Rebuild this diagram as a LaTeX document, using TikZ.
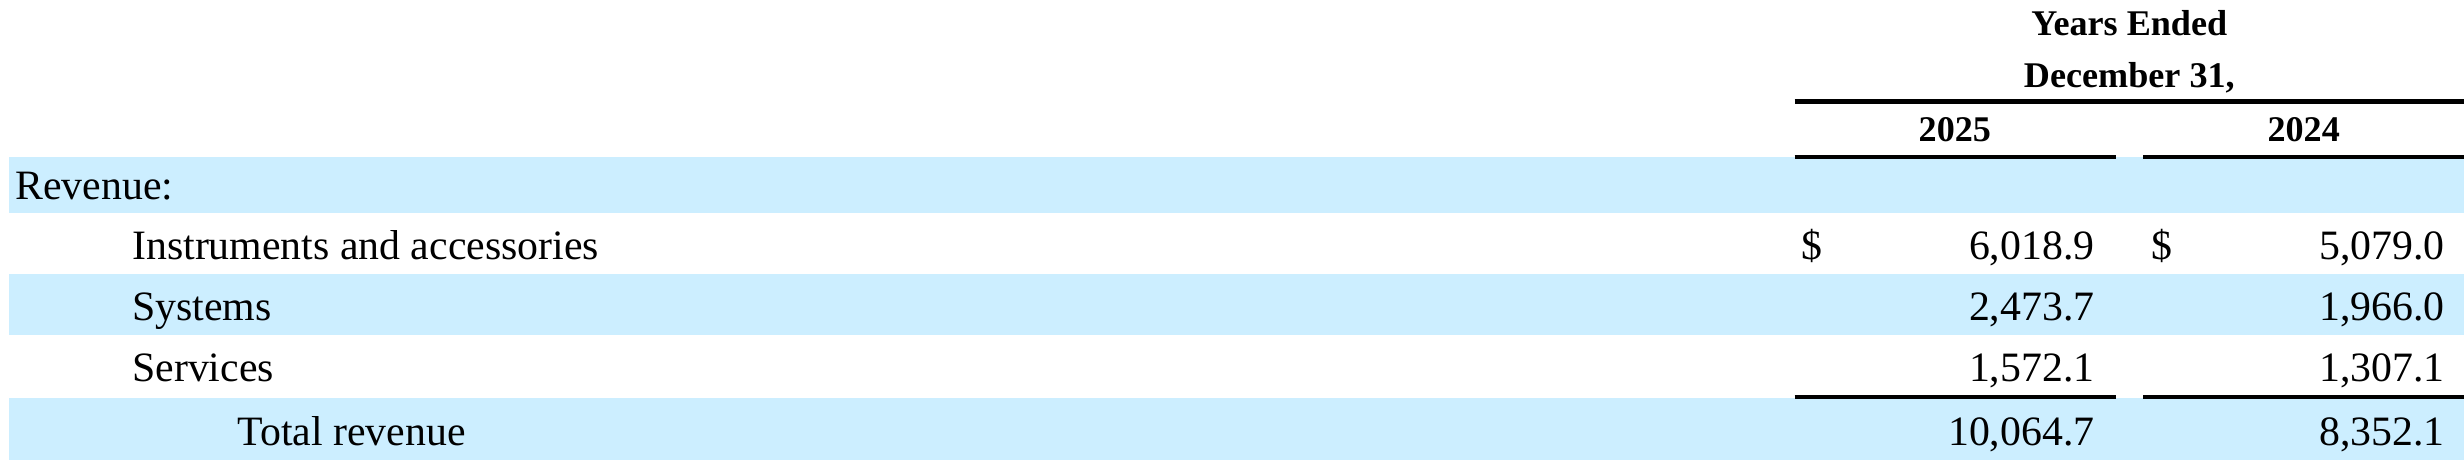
\documentclass[tikz,border=0pt]{standalone}
\usepackage{fontspec}
\setmainfont{Liberation Serif}
\definecolor{bandblue}{RGB}{204,238,255}
\begin{document}
\begin{tikzpicture}[x=1pt,y=-1pt,
  body/.style={inner sep=0pt, font=\fontsize{26.6}{30}\selectfont},
  head/.style={inner sep=0pt, font=\fontsize{23}{26}\selectfont\bfseries},
  rulethick/.style={line width=2.8pt, black},
  band/.style={fill=bandblue, draw=none}]
\useasboundingbox (0,0) rectangle (1568,293);
% bands
\path[band] (6,100) rectangle (1568,135.5);
\path[band] (6,174.4) rectangle (1568,213.4);
\path[band] (6,253.5) rectangle (1568,293);
% header
\node[head, anchor=base] (yrs) at (1355,22.3) {Years Ended};
\node[head, anchor=base] (dec) at (1355,55.6) {December 31,};
\node[head, anchor=base] (y25) at (1244,90.2) {2025};
\node[head, anchor=base] (y24) at (1466,90.2) {2024};
\coordinate (tl) at (1142,64.7);
\coordinate (tr) at (1568,64.7);
\draw[rulethick] (tl) -- (tr);
\coordinate (a1) at (1142,99.8);
\coordinate (a2) at (1346.5,99.8);
\coordinate (b1) at (1364,99.8);
\coordinate (b2) at (1568,99.8);
\draw[rulethick] (a1) -- (a2);
\draw[rulethick] (b1) -- (b2);
% labels
\node[body, anchor=base west] (rev) at (9.7,126.8) {Revenue:};
\node[body, anchor=base west] (ins) at (84,165) {Instruments and accessories};
\node[body, anchor=base west] (sys) at (84,203.8) {Systems};
\node[body, anchor=base west] (ser) at (84,243) {Services};
\node[body, anchor=base west] (tot) at (151,283.3) {Total revenue};
% values
\node[body, anchor=base west] (d1) at (1146,165) {\$};
\node[body, anchor=base west] (d2) at (1369,165) {\$};
\node[body, anchor=base east] (v11) at (1333,165) {6,018.9};
\node[body, anchor=base east] (v12) at (1556,165) {5,079.0};
\node[body, anchor=base east] (v21) at (1333,203.8) {2,473.7};
\node[body, anchor=base east] (v22) at (1556,203.8) {1,966.0};
\node[body, anchor=base east] (v31) at (1333,243) {1,572.1};
\node[body, anchor=base east] (v32) at (1556,243) {1,307.1};
\node[body, anchor=base east] (v41) at (1333,283.3) {10,064.7};
\node[body, anchor=base east] (v42) at (1556,283.3) {8,352.1};
% total rules
\coordinate (c1) at (1142,252.5);
\coordinate (c2) at (1346.5,252.5);
\coordinate (e1) at (1364,252.5);
\coordinate (e2) at (1568,252.5);
\draw[rulethick] (c1) -- (c2);
\draw[rulethick] (e1) -- (e2);
\end{tikzpicture}
\end{document}
